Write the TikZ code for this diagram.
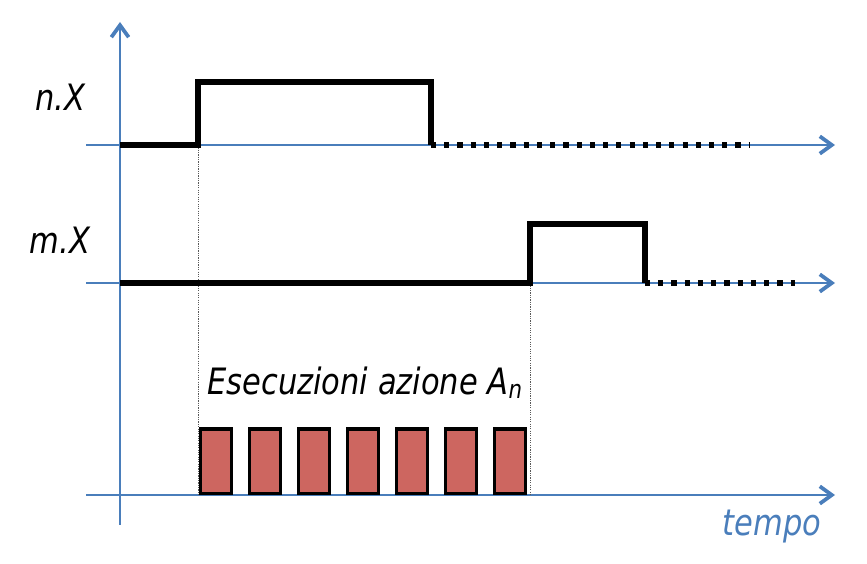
\documentclass[tikz,border=0pt]{standalone}
\usepackage{fontspec}
\setmainfont{DejaVu Sans}[FakeStretch=0.84]
\usetikzlibrary{positioning, arrows.meta}
\definecolor{axisblue}{HTML}{4A7EBB}
\definecolor{barred}{HTML}{CD6660}

\begin{document}
\begin{tikzpicture}
    [
        node distance=1.47cm, on grid,
        axis_line/.style={draw=axisblue, line width=1.3pt, -{Straight Barb[length=3.6mm, width=5.2mm, line width=3.2pt]}},
        signal/.style={draw=black, line width=4.9pt, line join=miter},
        signal_off/.style={draw=black, line width=4.9pt, dash pattern=on 4.4pt off 6.9pt},
        guide/.style={draw=black!65, line width=0.6pt, dash pattern=on 1pt off 1pt},
        bar_node/.style={rectangle, draw=black, fill=barred, line width=3pt, minimum width=0.93cm, minimum height=1.93cm, inner sep=0pt},
        label_text/.style={font=\fontsize{31}{36}\selectfont\itshape, inner sep=0pt},
    ]
        \useasboundingbox (0,0) rectangle (26.01,16.92);
        % axes
        \coordinate (origin) at (3.6,1.17);
        \coordinate (ytop) at (3.6,16.26);
        \coordinate (ax1_start) at (2.58,12.57);
        \coordinate (ax1_end) at (25.05,12.57);
        \coordinate (ax2_start) at (2.58,8.43);
        \coordinate (ax2_end) at (25.05,8.43);
        \coordinate (ax3_start) at (2.58,2.07);
        \coordinate (ax3_end) at (25.05,2.07);
        \draw[axis_line] (origin) -- (ytop) ;
        \draw[axis_line] (ax1_start) -- (ax1_end) ;
        \draw[axis_line] (ax2_start) -- (ax2_end) ;
        \draw[axis_line] (ax3_start) -- (ax3_end) ;
        % guides
        \draw[guide] (5.94,12.57) -- (5.94,2.07) ;
        \draw[guide] (15.9,8.43) -- (15.9,2.07) ;
        % n.X
        \draw[signal] (3.6,12.57) -- (5.94,12.57) -- (5.94,14.46) -- (12.93,14.46) -- (12.93,12.57) ;
        \draw[signal_off] (12.93,12.57) -- (22.5,12.57) ;
        % m.X
        \draw[signal] (3.6,8.43) -- (15.9,8.43) -- (15.9,10.2) -- (19.35,10.2) -- (19.35,8.43) ;
        \draw[signal_off] (19.35,8.43) -- (23.85,8.43) ;
        % labels
        \node[label_text] (nX) at (1.8,14.01) {n.X} ;
        \node[label_text] (mX) at (1.8,9.72) {m.X} ;
        \node[label_text] (exec) at (10.95,5.43) {Esecuzioni azione A\textsubscript{n}} ;
        \node[label_text, text=axisblue] (tempo) at (23.16,1.11) {tempo} ;
        % executions
        \node[bar_node] (b1) at (6.48,3.08) {} ;
        \node[bar_node] (b2) [right = of b1] {} ;
        \node[bar_node] (b3) [right = of b2] {} ;
        \node[bar_node] (b4) [right = of b3] {} ;
        \node[bar_node] (b5) [right = of b4] {} ;
        \node[bar_node] (b6) [right = of b5] {} ;
        \node[bar_node] (b7) [right = of b6] {} ;
    \end{tikzpicture}
\end{document}
